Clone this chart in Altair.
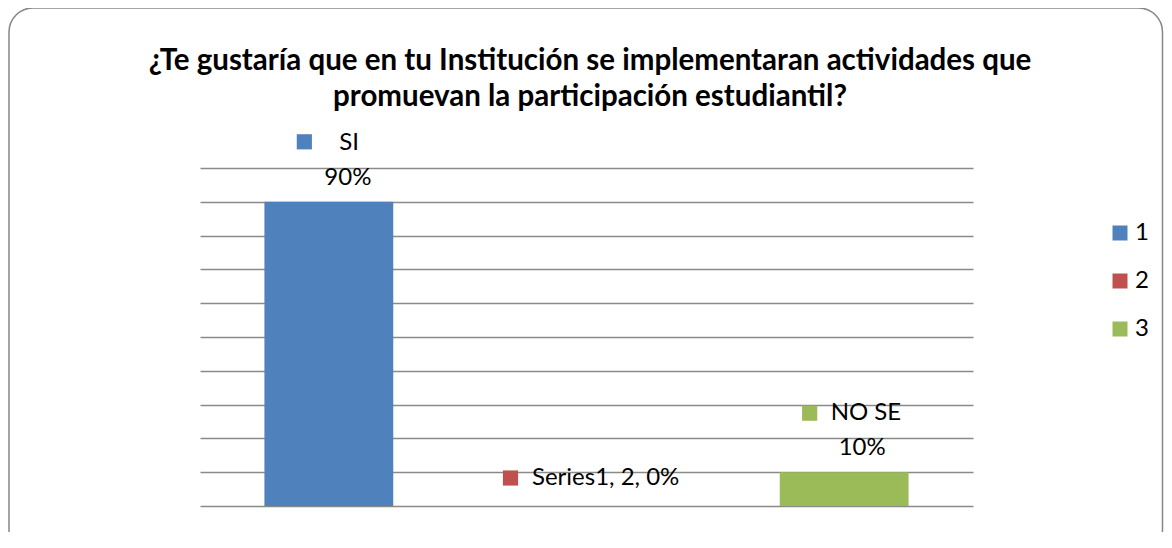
import altair as alt
import pandas as pd

categories = ["1", "2", "3"]
values = [0.9, 0.0, 0.1]
label_line1 = ["SI", "Series1, 2, 0%", "NO SE"]
label_line2 = ["90%", "", "10%"]
colors = ["#4F81BD", "#C0504D", "#9BBB59"]
title_lines = [
    "¿Te gustaría que en tu Institución se implementaran actividades que",
    "promuevan la participación estudiantil?",
]

df = pd.DataFrame({"cat": categories, "value": values,
                   "line1": label_line1, "line2": label_line2})

FONT = "Lato"
FS = 24

xenc = alt.X("cat:N", axis=None,
             scale=alt.Scale(domain=categories, paddingInner=0.5, paddingOuter=0.25))
yenc = alt.Y("value:Q", scale=alt.Scale(domain=[0, 1], nice=False),
             axis=alt.Axis(values=[round(i * 0.1, 1) for i in range(11)], labels=False,
                           ticks=False, domain=False, grid=True, gridColor="#8a8a8a",
                           gridWidth=1.6, title=None))
cscale = alt.Scale(domain=categories, range=colors)

frame = alt.Chart(pd.DataFrame({"a": [0]})).mark_rect(
    fillOpacity=0, stroke="#868686", strokeWidth=1.5, cornerRadius=24
).encode(x=alt.value(-191), x2=alt.value(962.5), y=alt.value(-160), y2=alt.value(385))

title = alt.Chart(pd.DataFrame({"a": [0]})).mark_text(
    font=FONT, fontSize=29.5, fontWeight="bold", color="black", align="center",
    baseline="alphabetic", lineHeight=36
).encode(x=alt.value(390), y=alt.value(-98), text=alt.value(title_lines))

bars = alt.Chart(df).mark_bar().encode(
    x=xenc, y=yenc,
    color=alt.Color("cat:N", scale=cscale,
                    legend=alt.Legend(title=None, orient="none", legendX=908, legendY=53,
                                      symbolType="square", symbolSize=225,
                                      symbolStrokeWidth=0, labelFont=FONT,
                                      labelFontSize=FS, labelColor="black",
                                      rowPadding=24, labelOffset=3, padding=0)),
)


def label(cat, field, dx, dy, align):
    return alt.Chart(df).transform_filter(alt.datum.cat == cat).mark_text(
        dx=dx, dy=dy, align=align, baseline="middle", font=FONT, fontSize=FS,
        color="black"
    ).encode(x=xenc, y=yenc, text=f"{field}:N")


def square(cat, dx, dy):
    return alt.Chart(df).transform_filter(alt.datum.cat == cat).mark_square(
        size=230, opacity=1, xOffset=dx, yOffset=dy
    ).encode(x=xenc, y=yenc,
             color=alt.Color("cat:N", scale=cscale, legend=None))


layers = [
    frame, title, bars,
    square("1", -24.5, -60), label("1", "line1", 10.5, -59, "left"),
    label("1", "line2", 19, -24, "center"),
    square("2", -76, -28), label("2", "line1", -54.5, -28, "left"),
    square("3", -34.5, -59), label("3", "line1", -13.5, -59, "left"),
    label("3", "line2", 18, -24, "center"),
]

chart = alt.layer(*layers).properties(
    width=773, height=338,
    autosize=alt.AutoSizeParams(type="none"),
    padding={"left": 192, "top": 160, "right": 191, "bottom": 26},
).configure_view(stroke=None)

chart.save("out.html", embed_options={"renderer": "svg", "actions": False})
